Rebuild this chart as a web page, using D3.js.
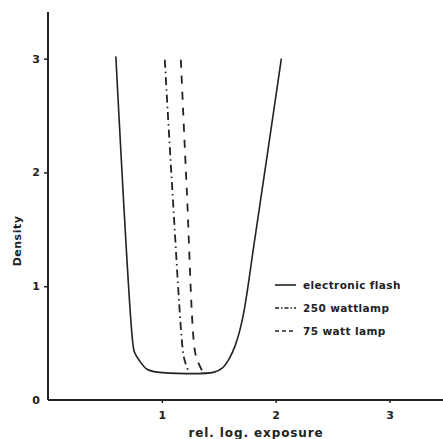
<!DOCTYPE html>
<html><head><meta charset="utf-8">
<script src="https://cdn.jsdelivr.net/npm/d3@7"></script>
<style>
body{margin:0;background:#fff;}
text{font-family:"DejaVu Sans",sans-serif;font-weight:bold;fill:#222;}
</style></head>
<body><svg id="c" width="443" height="439"></svg>
<script>
const xTicks = [1, 2, 3];
const yTicks = [0, 1, 2, 3];
const seriesNames = ["electronic flash", "250 wattlamp", "75  watt lamp"];
const flash = [[0.596,3.02],[0.745,0.50],[0.76,0.42],[0.807,0.34],[0.87,0.27],[0.96,0.245],[1.46,0.245],[1.53,0.28],[1.59,0.36],[1.645,0.48],[1.71,0.72],[1.816,1.41],[2.05,3.0]];
const lamp250 = [[1.026,2.99],[1.092,1.85],[1.184,0.44],[1.20,0.35],[1.237,0.246]];
const lamp75 = [[1.167,2.99],[1.219,1.85],[1.289,0.44],[1.315,0.34],[1.36,0.246]];

const svg = d3.select("#c");
const x = d3.scaleLinear().domain([0, 3.47]).range([48, 443]);
const y = d3.scaleLinear().domain([0, 3.41]).range([400, 12]);
const ink = "#222";

svg.append("line").attr("x1", x(0)).attr("x2", 443).attr("y1", y(0)).attr("y2", y(0)).attr("stroke", ink).attr("stroke-width", 2);
svg.append("line").attr("x1", x(0)).attr("x2", x(0)).attr("y1", y(0)).attr("y2", y(3.41)).attr("stroke", ink).attr("stroke-width", 2);

const xa = svg.append("g").attr("transform", `translate(0,${y(0)})`)
  .call(d3.axisBottom(x).tickValues(xTicks).tickSize(3).tickPadding(8).tickFormat(d3.format("d")));
xa.select(".domain").remove();
xa.selectAll("line").attr("stroke", ink).attr("stroke-width", 1.5);
xa.selectAll("text").attr("font-size", 11).style("font-family", "DejaVu Sans").style("font-weight", "bold").attr("fill", ink);

const ya = svg.append("g").attr("transform", `translate(${x(0)},0)`)
  .call(d3.axisLeft(y).tickValues(yTicks).tickSize(4).tickPadding(4).tickFormat(d3.format("d")));
ya.select(".domain").remove();
ya.selectAll("line").attr("stroke", ink).attr("stroke-width", 1.5);
ya.selectAll(".tick").filter(d => d === 0).select("line").remove();
ya.selectAll("text").attr("font-size", 11).style("font-family", "DejaVu Sans").style("font-weight", "bold").attr("fill", ink);

svg.append("text").attr("x", 256).attr("y", 437).attr("text-anchor", "middle").attr("font-size", 12).attr("letter-spacing", 0.9).text("rel. log. exposure");
svg.append("text").attr("transform", "translate(21,241) rotate(-90)").attr("text-anchor", "middle").attr("font-size", 11).attr("letter-spacing", 0.5).text("Density");

const line = d3.line().x(d => x(d[0])).y(d => y(d[1])).curve(d3.curveCatmullRom.alpha(0.5));
const styles = [
  {data: flash, dash: null, w: 1.6},
  {data: lamp250, dash: "8,4,1.5,4", w: 1.8},
  {data: lamp75, dash: "8,8", w: 1.8}
];
styles.forEach(s => {
  svg.append("path").attr("d", line(s.data)).attr("fill", "none").attr("stroke", ink)
    .attr("stroke-width", s.w).attr("stroke-dasharray", s.dash);
});

const legY = [285, 308, 331];
const legDash = [null, "4,2,1.5,2", "4,3"];
seriesNames.forEach((n, i) => {
  svg.append("line").attr("x1", 275).attr("x2", 296).attr("y1", legY[i]).attr("y2", legY[i])
    .attr("stroke", ink).attr("stroke-width", 1.6).attr("stroke-dasharray", legDash[i]);
  svg.append("text").attr("x", 303).attr("y", legY[i] + 4).attr("font-size", 10.5).attr("letter-spacing", 0.4).text(n);
});
</script></body></html>
